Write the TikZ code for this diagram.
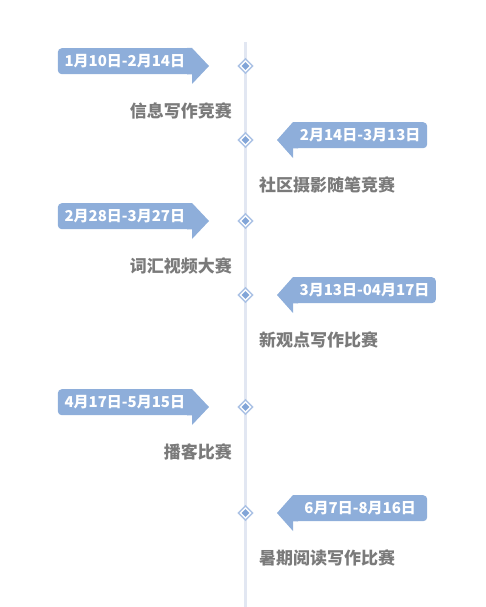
\documentclass[tikz,border=0pt]{standalone}
\usepackage{fontspec}
\newfontfamily\cjk{Noto Sans CJK SC}
\usetikzlibrary{shapes.geometric}
\definecolor{tagblue}{HTML}{8EAEDA}
\definecolor{linegray}{HTML}{E2E7F2}
\definecolor{textgray}{HTML}{7A7A7A}
\definecolor{dotblue}{HTML}{82A5D8}
\definecolor{dotedge}{HTML}{ABC2E5}

\begin{document}
\begin{tikzpicture}[x=1pt, y=-1pt,
    tagbox/.style={fill=tagblue, text=white, rounded corners=4pt,
      font=\cjk\bfseries\fontsize{15}{15}\selectfont,
      minimum width=134pt, minimum height=26pt, inner xsep=6.5pt, inner ysep=0pt},
    eventname/.style={text=textgray, font=\cjk\bfseries\fontsize{17}{17}\selectfont, inner sep=0pt},
    outerdot/.style={diamond, draw=dotedge, line width=1.4pt, fill=white, minimum size=15pt, inner sep=0pt},
    innerdot/.style={diamond, fill=dotblue, minimum size=8pt, inner sep=0pt}]
  \useasboundingbox (0,0) rectangle (485,607);
  \draw[linegray, line width=3pt] (245.5,42) -- (245.5,607);
  \foreach \i/\y/\dt/\ev in {1/66/{1月10日-2月14日}/{信息写作竞赛},
      3/221/{2月28日-3月27日}/{词汇视频大赛},
      5/407/{4月17日-5月15日}/{播客比赛}}{
    \node[outerdot] (m\i) at (245.5,\y) {};
    \node[innerdot] (c\i) at (m\i) {};
    \node[tagbox, anchor=north east] (d\i) at (192,\y-18) {\dt};
    \fill[tagblue] (d\i.north east) rectangle ++(-5,5) (d\i.south east) rectangle ++(-5,-5);
    \fill[tagblue] (d\i.north east) -- ++(17,18) -- ++(-17,18) -- cycle;
    \node[eventname, anchor=east] (e\i) at (232,\y+44.5) {\ev};
  }
  \foreach \i/\y/\dt/\ev in {2/140/{2月14日-3月13日}/{社区摄影随笔竞赛},
      4/295/{3月13日-04月17日}/{新观点写作比赛},
      6/513/{6月7日-8月16日}/{暑期阅读写作比赛}}{
    \node[outerdot] (m\i) at (245.5,\y) {};
    \node[innerdot] (c\i) at (m\i) {};
    \node[tagbox, anchor=north west] (d\i) at (293,\y-18) {\dt};
    \fill[tagblue] (d\i.north west) rectangle ++(5,5) (d\i.south west) rectangle ++(5,-5);
    \fill[tagblue] (d\i.north west) -- ++(-16,18) -- ++(16,18) -- cycle;
    \node[eventname, anchor=west] (e\i) at (259,\y+44.5) {\ev};
  }
\end{tikzpicture}
\end{document}
